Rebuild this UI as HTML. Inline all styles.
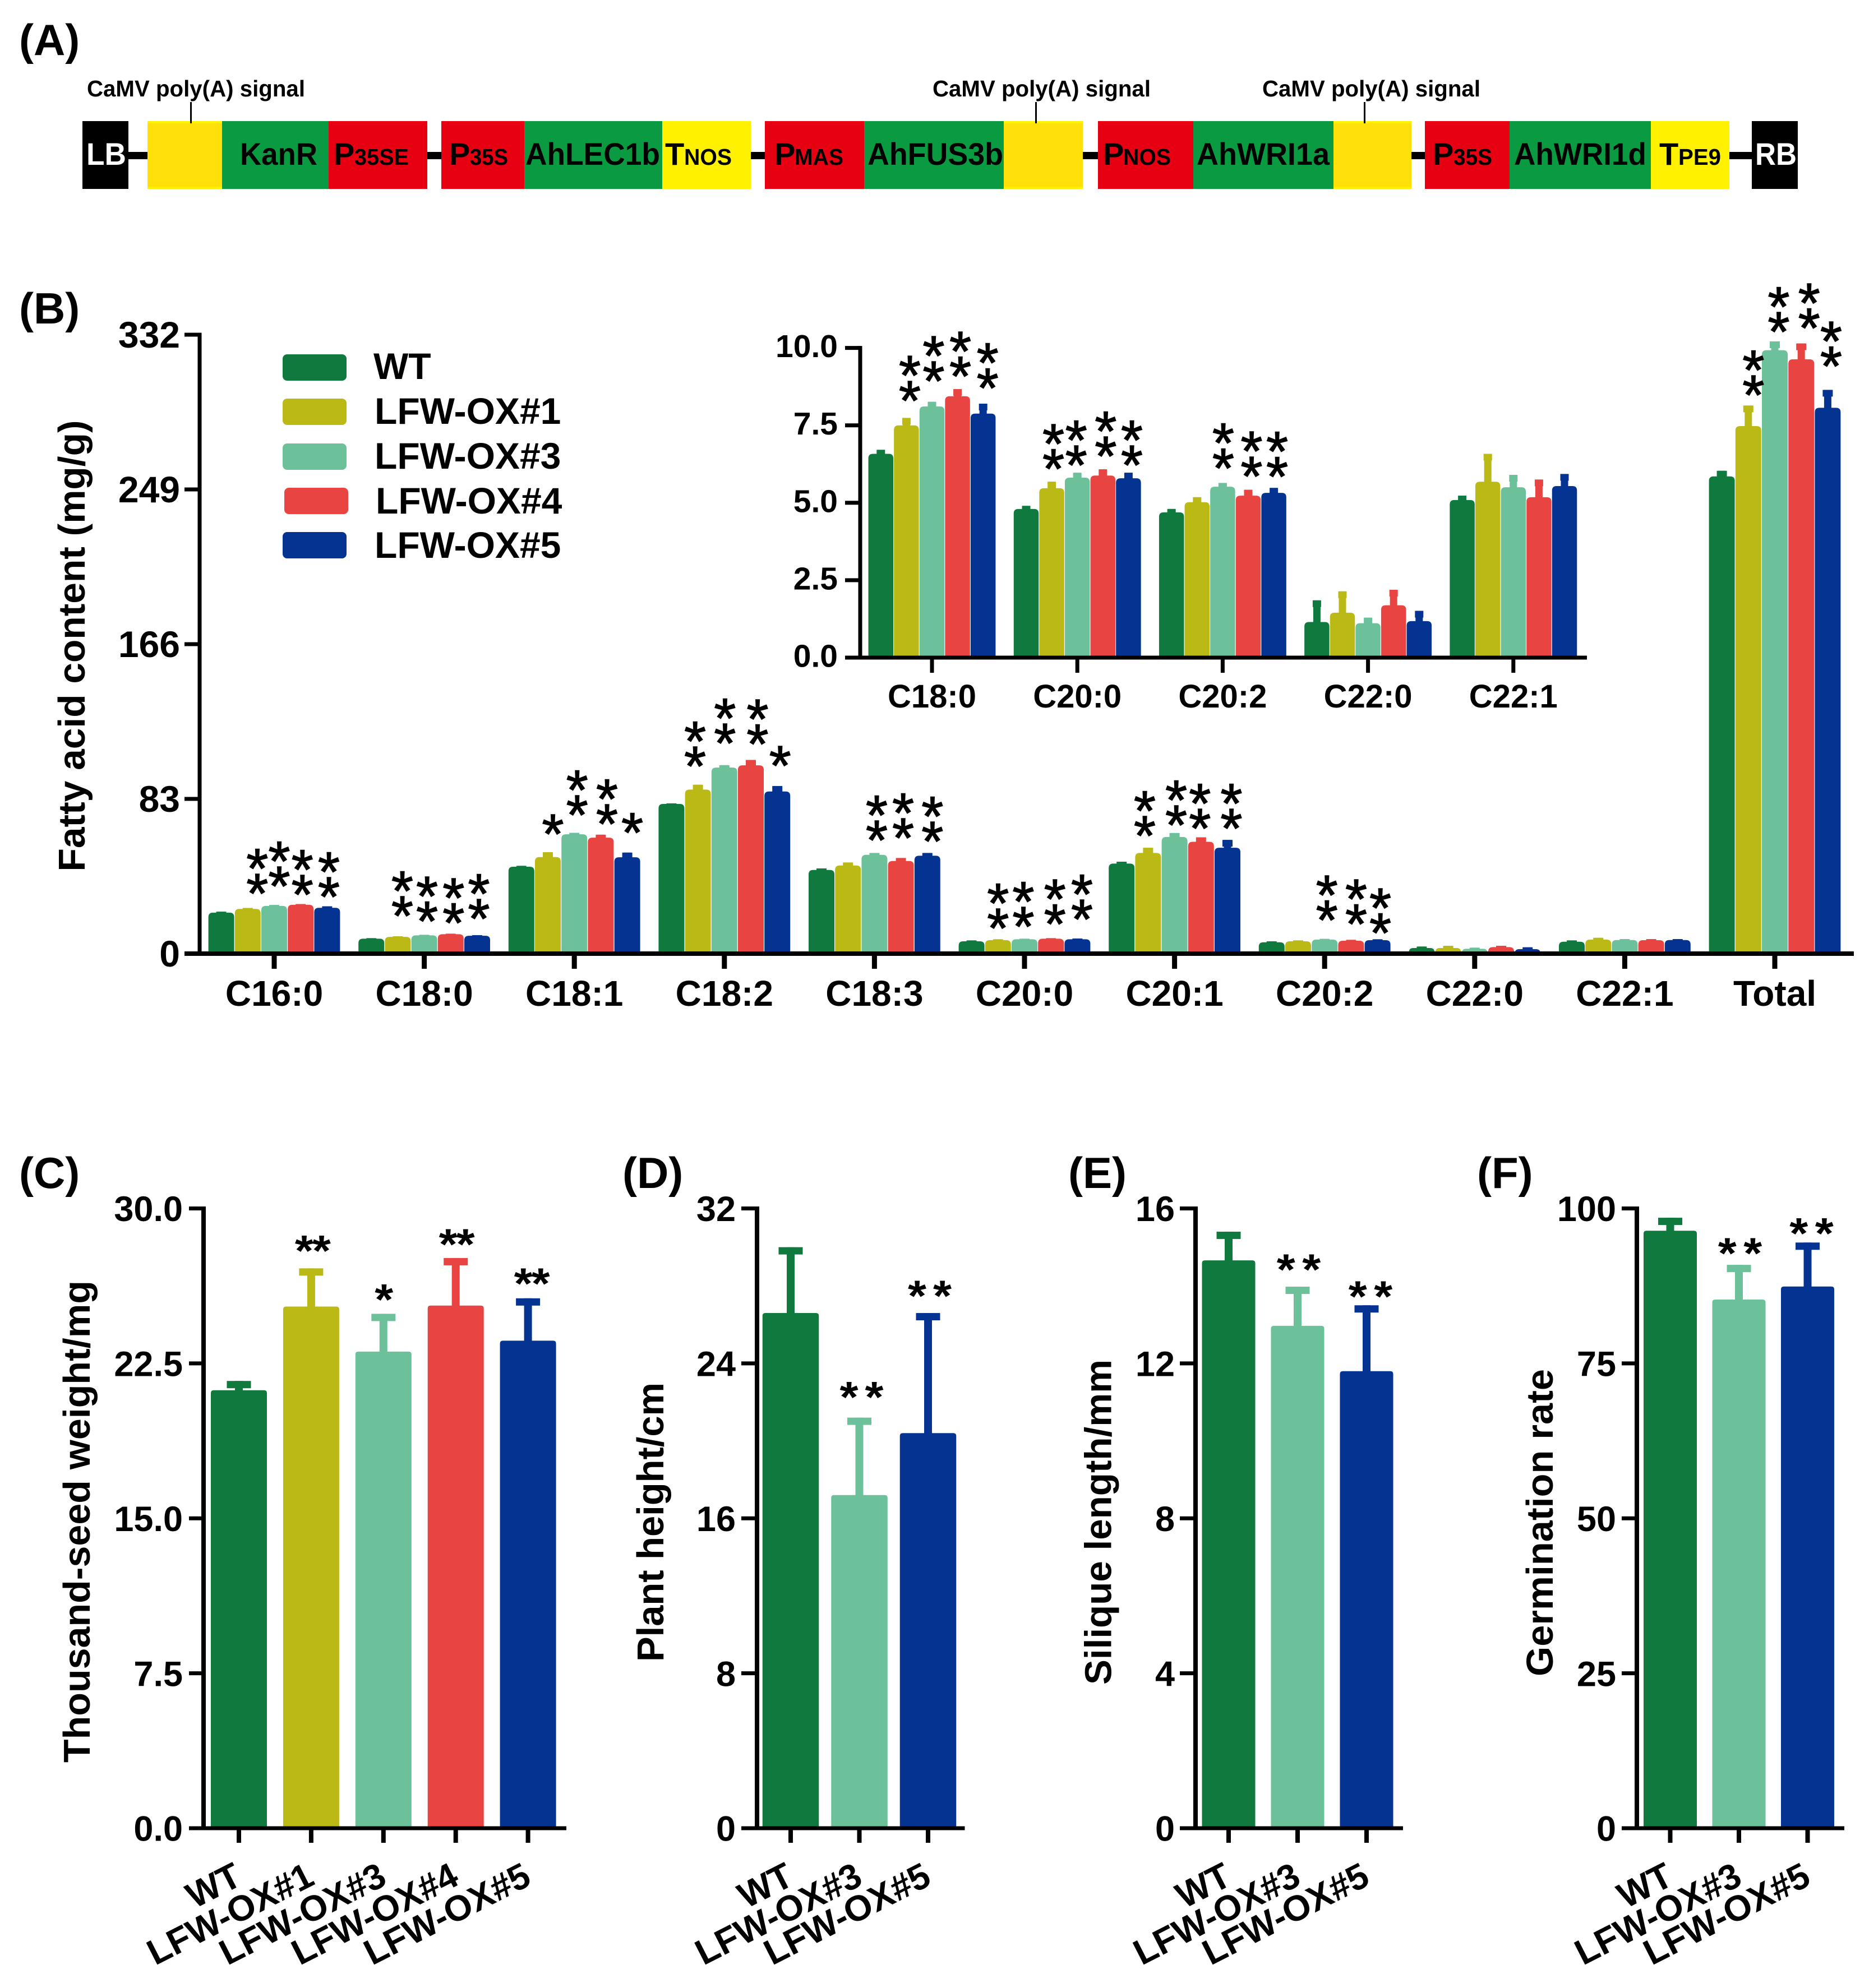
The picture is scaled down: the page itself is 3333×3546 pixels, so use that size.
<!DOCTYPE html>
<html lang="en">
<head>
<meta charset="utf-8">
<title>Fatty acid content and seed traits of LFW-OX lines</title>
<style>
html,body{margin:0;padding:0;background:#fff}
svg{display:block}
text{font-family:"Liberation Sans",Arial,sans-serif}
.b{font-weight:bold}
</style>
</head>
<body>
<svg id="figure" xmlns="http://www.w3.org/2000/svg" width="3333" height="3546" viewBox="0 0 3333 3546">
<rect x="0" y="0" width="3333" height="3546" fill="#fff"/>
<text class="b" x="34" y="98" font-size="78">(A)</text>
<text class="b" x="34" y="577" font-size="78">(B)</text>
<text class="b" x="34" y="2119" font-size="78">(C)</text>
<text class="b" x="1110" y="2119" font-size="78">(D)</text>
<text class="b" x="1905" y="2119" font-size="78">(E)</text>
<text class="b" x="2634" y="2119" font-size="78">(F)</text>

<g>
<rect x="229" y="271" width="2895" height="13" fill="#000"/>
<rect x="147" y="216" width="82" height="121" fill="#000"/>
<rect x="263" y="216" width="133" height="121" fill="#fff200"/>
<rect x="263" y="220" width="133" height="113" fill="#ffe008"/>
<rect x="396" y="216" width="190" height="121" fill="#0a9a41"/>
<rect x="586" y="216" width="176" height="121" fill="#e60012"/>
<rect x="787" y="216" width="148" height="121" fill="#e60012"/>
<rect x="935" y="216" width="246" height="121" fill="#0a9a41"/>
<rect x="1181" y="216" width="158" height="121" fill="#fff100"/>
<rect x="1364" y="216" width="177" height="121" fill="#e60012"/>
<rect x="1541" y="216" width="249" height="121" fill="#0a9a41"/>
<rect x="1790" y="216" width="141" height="121" fill="#fff200"/>
<rect x="1790" y="220" width="141" height="113" fill="#ffe008"/>
<rect x="1958" y="216" width="170" height="121" fill="#e60012"/>
<rect x="2128" y="216" width="250" height="121" fill="#0a9a41"/>
<rect x="2378" y="216" width="139" height="121" fill="#fff200"/>
<rect x="2378" y="220" width="139" height="113" fill="#ffe008"/>
<rect x="2541" y="216" width="151" height="121" fill="#e60012"/>
<rect x="2692" y="216" width="252" height="121" fill="#0a9a41"/>
<rect x="2944" y="216" width="140" height="121" fill="#fff100"/>
<rect x="3124" y="216" width="82" height="121" fill="#000"/>

<rect x="339" y="182" width="3" height="38" fill="#000"/>
<rect x="1846" y="182" width="3" height="38" fill="#000"/>
<rect x="2432" y="182" width="3" height="38" fill="#000"/>
<text class="b" x="155" y="172" font-size="41" textLength="389" lengthAdjust="spacingAndGlyphs">CaMV poly(A) signal</text>
<text class="b" x="1663" y="172" font-size="41" textLength="389" lengthAdjust="spacingAndGlyphs">CaMV poly(A) signal</text>
<text class="b" x="2251" y="172" font-size="41" textLength="389" lengthAdjust="spacingAndGlyphs">CaMV poly(A) signal</text>

<text class="b" x="154" y="294" font-size="56" fill="#fff" textLength="71" lengthAdjust="spacingAndGlyphs">LB</text>
<text class="b" x="428" y="294" font-size="56" textLength="138" lengthAdjust="spacingAndGlyphs">KanR</text>
<text class="b" x="595" y="294" font-size="56">P</text>
<text class="b" x="632" y="294" font-size="41" textLength="97" lengthAdjust="spacingAndGlyphs">35SE</text>
<text class="b" x="801" y="294" font-size="56">P</text>
<text class="b" x="838" y="294" font-size="41" textLength="68" lengthAdjust="spacingAndGlyphs">35S</text>
<text class="b" x="937" y="294" font-size="56" textLength="240" lengthAdjust="spacingAndGlyphs">AhLEC1b</text>
<text class="b" x="1186" y="294" font-size="56">T</text>
<text class="b" x="1220" y="294" font-size="41" textLength="85" lengthAdjust="spacingAndGlyphs">NOS</text>
<text class="b" x="1381" y="294" font-size="56">P</text>
<text class="b" x="1417" y="294" font-size="41" textLength="87" lengthAdjust="spacingAndGlyphs">MAS</text>
<text class="b" x="1547" y="294" font-size="56" textLength="242" lengthAdjust="spacingAndGlyphs">AhFUS3b</text>
<text class="b" x="1967" y="294" font-size="56">P</text>
<text class="b" x="2003" y="294" font-size="41" textLength="85" lengthAdjust="spacingAndGlyphs">NOS</text>
<text class="b" x="2134" y="294" font-size="56" textLength="237" lengthAdjust="spacingAndGlyphs">AhWRI1a</text>
<text class="b" x="2555" y="294" font-size="56">P</text>
<text class="b" x="2592" y="294" font-size="41" textLength="69" lengthAdjust="spacingAndGlyphs">35S</text>
<text class="b" x="2700" y="294" font-size="56" textLength="236" lengthAdjust="spacingAndGlyphs">AhWRI1d</text>
<text class="b" x="2959" y="294" font-size="56">T</text>
<text class="b" x="2993" y="294" font-size="41" textLength="76" lengthAdjust="spacingAndGlyphs">PE9</text>
<text class="b" x="3130" y="294" font-size="56" fill="#fff" textLength="74" lengthAdjust="spacingAndGlyphs">RB</text>
</g>

<g>
<rect x="504" y="632" width="114" height="47" rx="8" fill="#107a3e"/>
<text class="b" x="666" y="676" font-size="66">WT</text>
<rect x="504" y="711" width="114" height="47" rx="8" fill="#bab915"/>
<text class="b" x="668" y="756" font-size="66">LFW-OX#1</text>
<rect x="504" y="791" width="114" height="47" rx="8" fill="#6cc19b"/>
<text class="b" x="668" y="836" font-size="66">LFW-OX#3</text>
<rect x="507" y="870" width="114" height="47" rx="8" fill="#e84542"/>
<text class="b" x="670" y="916" font-size="66">LFW-OX#4</text>
<rect x="504" y="949" width="114" height="47" rx="8" fill="#053391"/>
<text class="b" x="668" y="995" font-size="66">LFW-OX#5</text>
</g>
</svg>

<script>
// ---- Shared series colours ----
const colorWT = '#107a3e';
const colorOX1 = '#bab915';
const colorOX3 = '#6cc19b';
const colorOX4 = '#e84542';
const colorOX5 = '#053391';

// ---- Panel B main chart data ----
const bCategories = ['C16:0','C18:0','C18:1','C18:2','C18:3','C20:0','C20:1','C20:2','C22:0','C22:1','Total'];
const bTicks = ['0','83','166','249','332'];
const bValuesWT  = [22, 8, 46.6, 80.3, 44.9, 6.6, 48.3, 6.1, 3, 6.4, 256];
const bValuesOX1 = [24, 9, 51.8, 88, 47.3, 7.2, 54, 6.6, 3, 7.5, 283];
const bValuesOX3 = [25.6, 9.8, 64, 99.8, 53, 7.7, 62.6, 7.5, 2.6, 7.3, 323.7];
const bValuesOX4 = [26.2, 10.4, 62.2, 101, 49.7, 8, 60, 6.9, 3.5, 7.2, 318.8];
const bValuesOX5 = [24.6, 9.6, 51.7, 87, 52.5, 7.7, 56.8, 7.2, 2.4, 7.3, 292.8];
const bErrorsWT  = [0.5, 0.3, 0.5, 0.3, 0.8, 0.5, 1, 0.5, 0.8, 0.7, 3];
const bErrorsOX1 = [0.5, 0.3, 2.6, 2.6, 1.6, 0.5, 2.8, 0.5, 1.2, 1, 11];
const bErrorsOX3 = [0.5, 0.3, 0.8, 1.3, 1, 0.3, 2.1, 0.4, 0.6, 0.5, 4.7];
const bErrorsOX4 = [0.4, 0.3, 1.6, 2.9, 1.6, 0.3, 2.4, 0.5, 0.7, 0.6, 8.5];
const bErrorsOX5 = [0.8, 0.3, 2.5, 2.9, 1.5, 0.4, 4.2, 0.5, 1, 0.5, 9.6];
// significance: [category index, series index, number of stars]
const bSignificance = [
 [0,1,2],[0,2,2],[0,3,2],[0,4,2],
 [1,1,2],[1,2,2],[1,3,2],[1,4,2],
 [2,1,1],[2,2,2],[2,3,2],[2,4,1],
 [3,1,2],[3,2,2],[3,3,2],[3,4,1],
 [4,2,2],[4,3,2],[4,4,2],
 [5,1,2],[5,2,2],[5,3,2],[5,4,2],
 [6,1,2],[6,2,2],[6,3,2],[6,4,2],
 [7,2,2],[7,3,2],[7,4,2],
 [10,1,2],[10,2,2],[10,3,2],[10,4,2]
];
// annotation nudges relative to bar centre / error top
const bStarDx = [17,9,3,3, 8,5,5,3, 9,5,11,9, -5,1,12,5, 4,4,9, 0,-2,7,8, -6,3,-2,7, 4,9,5, 9,7,14,6];
const bStarDy = [-43.5,-51,-34.6,-34.5, -54,-42,-37,-47, -50,-49.5,-37,-53.5, -50.7,-57,-46,-54, -40.5,-53.4,-38.5, -37.4,-39.4,-43,-52, -39,-32,-33.5,-38, -51,-46,-29, -36.5,-35,-45,-60];

// ---- Panel B inset data ----
const insetCategories = ['C18:0','C20:0','C20:2','C22:0','C22:1'];
const insetTicks = ['0.0','2.5','5.0','7.5','10.0'];
const insetValuesWT  = [6.58, 4.8, 4.69, 1.15, 5.09];
const insetValuesOX1 = [7.5, 5.47, 5.02, 1.45, 5.68];
const insetValuesOX3 = [8.11, 5.81, 5.52, 1.11, 5.5];
const insetValuesOX4 = [8.44, 5.88, 5.23, 1.69, 5.18];
const insetValuesOX5 = [7.88, 5.79, 5.32, 1.18, 5.54];
const insetErrorsWT  = [0.13, 0.1, 0.11, 0.7, 0.14];
const insetErrorsOX1 = [0.24, 0.21, 0.16, 0.69, 0.9];
const insetErrorsOX3 = [0.15, 0.16, 0.12, 0.18, 0.4];
const insetErrorsOX4 = [0.23, 0.2, 0.19, 0.5, 0.57];
const insetErrorsOX5 = [0.32, 0.18, 0.16, 0.33, 0.39];
const insetSignificance = [[0,1,2],[0,2,2],[0,3,2],[0,4,2],[1,1,2],[1,2,2],[1,3,2],[1,4,2],[2,2,2],[2,3,2],[2,4,2]];
const insetStarDx = [6,3,5,8, 3,-2,5,6, 1,6,6];
const insetStarDy = [-48.4,-54.7,-40.5,-45.6, -40.5,-31,-41,-31, -44,-41.6,-38];

// ---- Panel C data ----
const cCategories = ['WT','LFW-OX#1','LFW-OX#3','LFW-OX#4','LFW-OX#5'];
const cTicks = ['0.0','7.5','15.0','22.5','30.0'];
const cValues = [21.2, 25.25, 23.07, 25.3, 23.6];
const cErrors = [0.45, 1.85, 1.83, 2.3, 2.05];
const cStars = [0, 2, 1, 2, 2];
const cStarDx = [0, 3, 1, 2, 7];
const cStarDy = [0, -44, -38, -37, -39];

// ---- Panel D data ----
const dCategories = ['WT','LFW-OX#3','LFW-OX#5'];
const dTicks = ['0','8','16','24','32'];
const dValues = [26.6, 17.2, 20.4];
const dErrors = [3.4, 4, 6.2];
const dStars = [0, 2, 2];
const dStarDx = [0, 4, 3];
const dStarDy = [0, -49, -43];

// ---- Panel E data ----
const eCategories = ['WT','LFW-OX#3','LFW-OX#5'];
const eTicks = ['0','4','8','12','16'];
const eValues = [14.66, 12.97, 11.8];
const eErrors = [0.74, 1.01, 1.7];
const eStars = [0, 2, 2];
const eStarDx = [0, 2, 7];
const eStarDy = [0, -43, -28];

// ---- Panel F data ----
const fCategories = ['WT','LFW-OX#3','LFW-OX#5'];
const fTicks = ['0','25','50','75','100'];
const fValues = [96.4, 85.3, 87.4];
const fErrors = [2.1, 5.6, 7.1];
const fStars = [0, 2, 2];
const fStarDx = [0, 2, 7];
const fStarDy = [0, -33, -29];

const NS = 'http://www.w3.org/2000/svg';
const root = document.getElementById('figure');

function add(parent, tag, attrs, name) {
  const el = document.createElementNS(NS, tag);
  for (const k in attrs) el.setAttribute(k, attrs[k]);
  
  
  parent.appendChild(el);
  return el;
}
function addText(parent, attrs, str, name) {
  const el = add(parent, 'text', attrs, name);
  el.textContent = str;
  return el;
}
function slug(s) { return String(s).toLowerCase().replace(/[^a-z0-9]+/g, '-'); }

function barPath(x, w, top, base, r) {
  const rr = Math.min(r, Math.max(base - top, 0));
  return 'M' + x + ' ' + base + 'V' + (top + rr) + 'Q' + x + ' ' + top + ' ' + (x + rr) + ' ' + top +
         'H' + (x + w - rr) + 'Q' + (x + w) + ' ' + top + ' ' + (x + w) + ' ' + (top + rr) + 'V' + base + 'Z';
}
function drawBar(g, cx, w, value, error, yFn, color, r, stemW, capW, capH, label) {
  const top = yFn(value), errTop = yFn(value + error);
  add(g, 'rect', {x: cx - stemW / 2, y: errTop, width: stemW, height: Math.max(top - errTop, 0) + 4, fill: color}, 'error-stem-' + label);
  add(g, 'rect', {x: cx - capW / 2, y: errTop, width: capW, height: capH, fill: color}, 'error-cap-' + label);
  add(g, 'path', {d: barPath(cx - w / 2, w, top, yFn(0), r), fill: color}, 'bar-' + label);
}
function drawAxes(g, o) {
  add(g, 'rect', {x: o.axisX - o.axisW / 2, y: o.yTop - o.tickH / 2, width: o.axisW, height: o.y0 - o.yTop + o.tickH, fill: '#000'}, o.id + '-y-axis');
  add(g, 'rect', {x: o.axisX - o.tickLen, y: o.y0 - o.lineH / 2, width: o.xEnd - o.axisX + o.tickLen, height: o.lineH, fill: '#000'}, o.id + '-x-axis');
  o.ticks.forEach(function (t, i) {
    const y = o.y0 - (o.y0 - o.yTop) * i / (o.ticks.length - 1);
    if (i > 0) add(g, 'rect', {x: o.axisX - o.tickLen, y: y - o.tickH / 2, width: o.tickLen, height: o.tickH, fill: '#000'}, o.id + '-y-tick-' + slug(t));
    addText(g, {x: o.labelX, y: y + o.tickFont * 0.36 - (o.labelLift || 0), 'text-anchor': 'end', 'font-size': o.tickFont, class: 'b'}, t, o.id + '-y-tick-label-' + slug(t));
  });
}

function drawGrouped(o) {
  const g = add(root, 'g', {}, o.id + '-chart');
  const yFn = function (v) { return o.y0 - v * (o.y0 - o.yTop) / o.maxV; };
  const xFn = function (c) { return o.x0 + c * o.step; };
  o.categories.forEach(function (cat, c) {
    o.series.forEach(function (s, si) {
      drawBar(g, xFn(c) + (si - 2) * o.pitch, o.barW, s[c], o.errors[si][c], yFn, o.colors[si], 8, 13, o.capW, 12, o.id + '-' + slug(cat) + '-s' + si);
    });
  });
  drawAxes(g, o);
  o.categories.forEach(function (cat, c) {
    add(g, 'rect', {x: xFn(c) - o.xTickW / 2, y: o.y0, width: o.xTickW, height: o.xTickLen, fill: '#000'}, o.id + '-x-tick-' + slug(cat));
    addText(g, {x: xFn(c), y: o.catY, 'text-anchor': 'middle', 'font-size': o.catFont, class: 'b'}, cat, o.id + '-x-label-' + slug(cat));
  });
  o.significance.forEach(function (sig, i) {
    const c = sig[0], si = sig[1], n = sig[2];
    const cx = xFn(c) + (si - 2) * o.pitch + o.starDx[i];
    const low = yFn(o.series[si][c] + o.errors[si][c]) + o.starDy[i];
    for (let k = 0; k < n; k++) {
      addText(g, {x: cx, y: low - k * o.starGap + o.starSize * 0.52, 'text-anchor': 'middle', 'font-size': o.starSize, fill: '#000',
        stroke: '#000', 'stroke-width': 1.5}, '*',
        'significance-star-' + o.id + '-' + slug(o.categories[c]) + '-s' + si + '-' + k);
    }
  });
}

function drawSimple(o) {
  const g = add(root, 'g', {}, o.id + '-chart');
  const yFn = function (v) { return o.y0 - v * (o.y0 - o.yTop) / o.maxV; };
  const xFn = function (i) { return o.x0 + i * o.step; };
  o.categories.forEach(function (cat, i) {
    drawBar(g, xFn(i), o.barW, o.values[i], o.errors[i], yFn, o.colors[i], 5, 14, 43, 13, o.id + '-' + slug(cat));
  });
  drawAxes(g, o);
  o.categories.forEach(function (cat, i) {
    add(g, 'rect', {x: xFn(i) - 4, y: o.y0, width: 8, height: 26, fill: '#000'}, o.id + '-x-tick-' + slug(cat));
    addText(g, {x: xFn(i) + 9, y: 3360, 'text-anchor': 'end', 'font-size': 64, class: 'b',
      transform: 'rotate(-27 ' + (xFn(i) + 9) + ' 3360)'}, cat, o.id + '-x-label-' + slug(cat));
    for (let k = 0; k < o.stars[i]; k++) {
      const off = (k - (o.stars[i] - 1) / 2) * o.starSpacing;
      addText(g, {x: xFn(i) + o.starDx[i] + off, y: yFn(o.values[i] + o.errors[i]) + o.starDy[i] + 78 * 0.5, 'text-anchor': 'middle', 'font-size': 78, class: 'b',
        textLength: 33, lengthAdjust: 'spacingAndGlyphs'}, '*', 'significance-star-' + o.id + '-' + slug(cat) + '-' + k);
    }
  });
  addText(g, {x: o.titleX, y: o.titleY, 'text-anchor': 'middle', 'font-size': 67, class: 'b',
    textLength: o.titleLen, lengthAdjust: 'spacingAndGlyphs',
    transform: 'rotate(-90 ' + o.titleX + ' ' + o.titleY + ')'}, o.title, o.id + '-y-axis-title');
}

const allColors = [colorWT, colorOX1, colorOX3, colorOX4, colorOX5];

drawGrouped({
  id: 'fatty-acid', categories: bCategories, ticks: bTicks,
  series: [bValuesWT, bValuesOX1, bValuesOX3, bValuesOX4, bValuesOX5],
  errors: [bErrorsWT, bErrorsOX1, bErrorsOX3, bErrorsOX4, bErrorsOX5],
  colors: allColors, maxV: 332, y0: 1701, yTop: 597, x0: 489, step: 267.6, pitch: 47.2, barW: 46, capW: 18,
  axisX: 356, axisW: 7, lineH: 8, tickH: 7, tickLen: 27, xEnd: 3306, labelX: 321, tickFont: 66, labelLift: 1,
  xTickW: 9, xTickLen: 27, catY: 1794, catFont: 64,
  significance: bSignificance, starDx: bStarDx, starDy: bStarDy, starGap: 44.5, starSize: 100
});
addText(root, {x: 151, y: 1152, 'text-anchor': 'middle', 'font-size': 67, class: 'b', textLength: 805, lengthAdjust: 'spacingAndGlyphs',
  transform: 'rotate(-90 151 1152)'}, 'Fatty acid content (mg/g)', 'fatty-acid-y-axis-title');

drawGrouped({
  id: 'inset', categories: insetCategories, ticks: insetTicks,
  series: [insetValuesWT, insetValuesOX1, insetValuesOX3, insetValuesOX4, insetValuesOX5],
  errors: [insetErrorsWT, insetErrorsOX1, insetErrorsOX3, insetErrorsOX4, insetErrorsOX5],
  colors: allColors, maxV: 10, y0: 1173, yTop: 620.6, x0: 1662, step: 259.2, pitch: 45.6, barW: 44.5, capW: 15,
  axisX: 1534, axisW: 7, lineH: 7, tickH: 7, tickLen: 27, xEnd: 2830, labelX: 1494, tickFont: 57, labelLift: 4,
  xTickW: 7, xTickLen: 27, catY: 1262, catFont: 58,
  significance: insetSignificance, starDx: insetStarDx, starDy: insetStarDy, starGap: 44.8, starSize: 100
});

drawSimple({
  id: 'thousand-seed', categories: cCategories, ticks: cTicks, values: cValues, errors: cErrors,
  colors: [colorWT, colorOX1, colorOX3, colorOX4, colorOX5], maxV: 30, y0: 3261, yTop: 2155.5,
  x0: 426, step: 128.9, barW: 100, axisX: 363, axisW: 8, lineH: 7, tickH: 7, tickLen: 26, xEnd: 1010, labelX: 326, tickFont: 63,
  stars: cStars, starDx: cStarDx, starDy: cStarDy, starSpacing: 31,
  title: 'Thousand-seed weight/mg', titleX: 160, titleY: 2714, titleLen: 860
});
drawSimple({
  id: 'plant-height', categories: dCategories, ticks: dTicks, values: dValues, errors: dErrors,
  colors: [colorWT, colorOX3, colorOX5], maxV: 32, y0: 3261, yTop: 2155.5,
  x0: 1410, step: 122.5, barW: 100.5, axisX: 1350, axisW: 8, lineH: 7, tickH: 7, tickLen: 28, xEnd: 1720.5, labelX: 1312, tickFont: 63,
  stars: dStars, starDx: dStarDx, starDy: dStarDy, starSpacing: 45,
  title: 'Plant height/cm', titleX: 1183, titleY: 2715, titleLen: 498
});
drawSimple({
  id: 'silique-length', categories: eCategories, ticks: eTicks, values: eValues, errors: eErrors,
  colors: [colorWT, colorOX3, colorOX5], maxV: 16, y0: 3261, yTop: 2155.5,
  x0: 2191, step: 123, barW: 95, axisX: 2132, axisW: 8, lineH: 7, tickH: 7, tickLen: 28, xEnd: 2502, labelX: 2095, tickFont: 63,
  stars: eStars, starDx: eStarDx, starDy: eStarDy, starSpacing: 45.5,
  title: 'Silique length/mm', titleX: 1981.5, titleY: 2715, titleLen: 580
});
drawSimple({
  id: 'germination-rate', categories: fCategories, ticks: fTicks, values: fValues, errors: fErrors,
  colors: [colorWT, colorOX3, colorOX5], maxV: 100, y0: 3261, yTop: 2155.5,
  x0: 2978.5, step: 122.5, barW: 95, axisX: 2919, axisW: 8, lineH: 7, tickH: 7, tickLen: 27, xEnd: 3289, labelX: 2882, tickFont: 63,
  stars: fStars, starDx: fStarDx, starDy: fStarDy, starSpacing: 45.5,
  title: 'Germination rate', titleX: 2769, titleY: 2716, titleLen: 548
});
</script>
</body>
</html>
